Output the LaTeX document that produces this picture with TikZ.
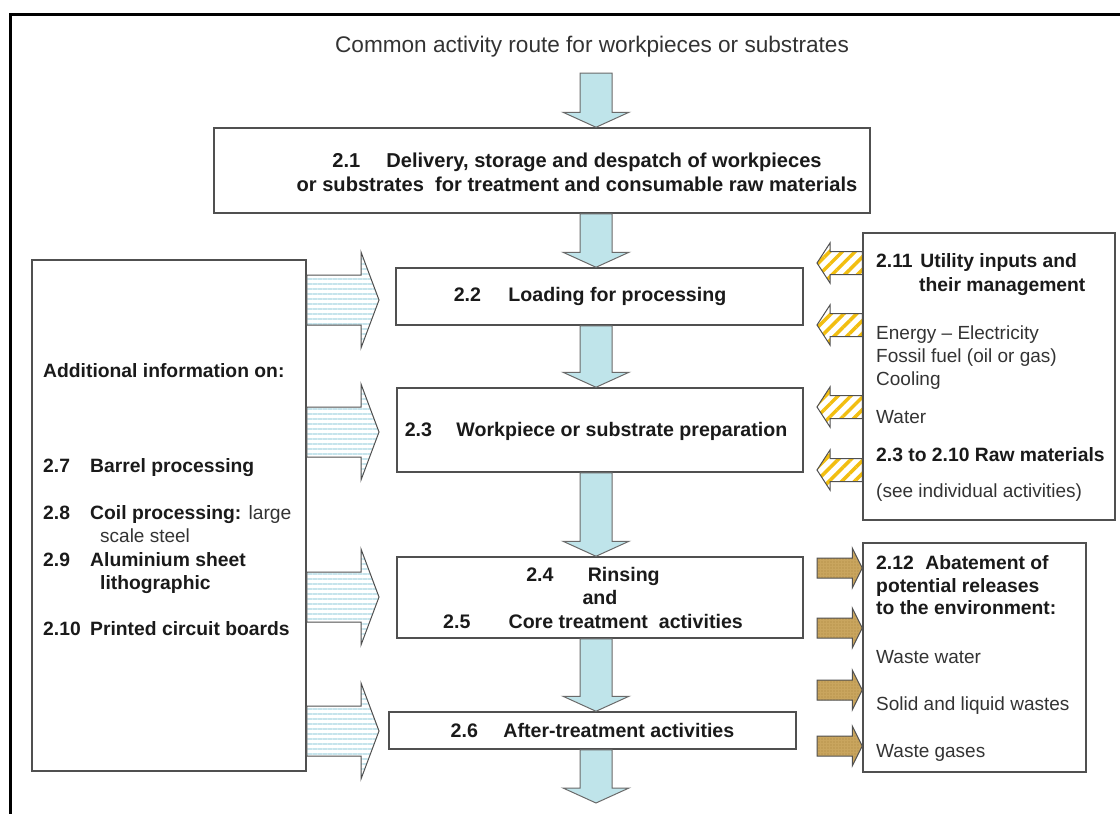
\documentclass[tikz,border=0pt]{standalone}
\usepackage{fontspec}
\setmainfont{Liberation Sans}
\usetikzlibrary{calc,patterns.meta}
\definecolor{arrblue}{HTML}{BFE4EA}
\definecolor{boxline}{HTML}{505050}
\definecolor{stripeblue}{HTML}{C6E4EC}
\definecolor{yelstripe}{HTML}{F2BE10}
\definecolor{tanfill}{HTML}{C9A55E}
\definecolor{tandark}{HTML}{A8843C}
\definecolor{txtdark}{HTML}{1A1A1A}
\definecolor{txtreg}{HTML}{333333}
\newcommand\downarr[2]{\draw[blockdown] let \p1=(#1), \p2=(#2) in
  (\x1-16pt,\y1) -- (\x1+16pt,\y1) -- (\x1+16pt,\y2+15pt) -- (\x1+33pt,\y2+15pt)
  -- (\x1,\y2) -- (\x1-33pt,\y2+15pt) -- (\x1-16pt,\y2+15pt) -- cycle;}
% right-pointing: #1 style, #2 tail, #3 tip, #4 shaft half, #5 head half, #6 head length
\newcommand\rarr[6]{\draw[#1] let \p1=(#2), \p2=(#3) in
  (\x1,\y1+#4) -- (\x2-#6,\y1+#4) -- (\x2-#6,\y1+#5) -- (\x2,\y1)
  -- (\x2-#6,\y1-#5) -- (\x2-#6,\y1-#4) -- (\x1,\y1-#4) -- cycle;}
\newcommand\larr[6]{\draw[#1] let \p1=(#2), \p2=(#3) in
  (\x1,\y1+#4) -- (\x2+#6,\y1+#4) -- (\x2+#6,\y1+#5) -- (\x2,\y1)
  -- (\x2+#6,\y1-#5) -- (\x2+#6,\y1-#4) -- (\x1,\y1-#4) -- cycle;}
\begin{document}
\begin{tikzpicture}[x=1pt,y=-1pt,
  font=\fontsize{19}{23.5}\selectfont,
  box/.style={draw=boxline, line width=1.5pt, rectangle, inner sep=0pt,
    align=center, font=\fontsize{19.6}{23.5}\selectfont\bfseries, text=txtdark},
  boxtext/.style={inner sep=0pt, align=center, font=\fontsize{19.6}{23.5}\selectfont\bfseries, text=txtdark},
  blockdown/.style={draw=boxline!85, line width=1pt, fill=arrblue},
  stripearr/.style={draw=boxline, line width=1pt, preaction={fill=white},
    pattern={Lines[angle=0,distance=5pt,line width=2.2pt]}, pattern color=stripeblue},
  yelarr/.style={draw=boxline, line width=1pt, preaction={fill=white},
    pattern={Lines[angle=45,distance=9pt,line width=3.5pt]}, pattern color=yelstripe},
  brownarr/.style={draw=boxline, line width=1pt, preaction={fill=tanfill},
    pattern={Dots[distance=3pt,radius=0.6pt]}, pattern color=tandark},
  lbl/.style={anchor=base west, inner sep=0pt, text=txtdark, font=\fontsize{19.3}{23.5}\selectfont\bfseries},
  reg/.style={anchor=base west, inner sep=0pt, text=txtreg, font=\fontsize{19}{23.5}\selectfont}]
\useasboundingbox (0,0) rectangle (1120,814);
% outer frame
\draw[line width=3pt, black] (10,814) -- (10,14) -- (1120,14);

% title
\node[text=txtreg, font=\fontsize{22.6}{26}\selectfont] (title) at (592,47) {Common activity route for workpieces or substrates};

% main boxes
\node[box, minimum width=656, minimum height=85] (b21) at (542,170.5) {};
\node[boxtext, font=\fontsize{20.1}{24}\selectfont\bfseries] (b21t) at (577,172)
  {2.1\hspace{1.3em}Delivery, storage and despatch of workpieces\\or substrates\ \ for treatment and consumable raw materials};
\node[box, minimum width=407, minimum height=57] (b22) at (599.5,296.5) {};
\node[boxtext] (b22t) at (590,296.5) {2.2\hspace{1.4em}Loading for processing};
\node[box, minimum width=406, minimum height=84] (b23) at (600,430) {};
\node[boxtext] (b23t) at (596,431) {2.3\hspace{1.25em}Workpiece or substrate preparation};
\node[box, minimum width=406, minimum height=81] (b24) at (600,597.5) {};
\node[boxtext] (b24t) at (593,597.5)
  {2.4\hspace{1.75em}Rinsing\\\hspace*{14pt}and\\2.5\hspace{1.95em}Core treatment\ \ activities};
\node[box, minimum width=407, minimum height=37] (b26) at (592.5,730.5)
  {2.6\hspace{1.3em}After-treatment activities};

% side boxes
\node[draw=boxline, line width=1.5pt, minimum width=274, minimum height=511, inner sep=0pt] (info) at (169,515.5) {};
\node[draw=boxline, line width=1.5pt, minimum width=252, minimum height=287, inner sep=0pt] (util) at (989,376.5) {};
\node[draw=boxline, line width=1.5pt, minimum width=223, minimum height=229, inner sep=0pt] (abate) at (974.5,657.5) {};

% left box text
\node[lbl] (addl) at (43,377) {Additional information on:};
\node[lbl] (n27) at (43,472) {2.7};
\node[lbl] (t27) at (90,472) {Barrel processing};
\node[lbl] (n28) at (43,519) {2.8};
\node[lbl] (t28) at (90,519) {Coil processing: \mdseries\color{txtreg}large};
\node[reg] (t28b) at (100,542) {scale steel};
\node[lbl] (n29) at (43,566) {2.9};
\node[lbl] (t29) at (90,566) {Aluminium sheet};
\node[lbl] (t29b) at (100,589) {lithographic};
\node[lbl] (n210) at (43,635) {2.10};
\node[lbl] (t210) at (90,635) {Printed circuit boards};

% utility box text
\node[lbl] (u1) at (876,267) {2.11\hspace{0.4em}Utility inputs and};
\node[lbl] (u2) at (919,291) {their management};
\node[reg] (u3) at (876,339) {Energy -- Electricity};
\node[reg] (u4) at (876,362) {Fossil fuel (oil or gas)};
\node[reg] (u5) at (876,385) {Cooling};
\node[reg] (u6) at (876,423) {Water};
\node[lbl] (u7) at (876,461) {2.3 to 2.10 Raw materials};
\node[reg] (u8) at (876,497) {(see individual activities)};

% abatement box text
\node[lbl] (a1) at (876,569) {2.12\hspace{0.6em}Abatement of};
\node[lbl] (a2) at (876,592) {potential releases};
\node[lbl] (a3) at (876,614) {to the environment:};
\node[reg] (a4) at (876,663) {Waste water};
\node[reg] (a5) at (876,710) {Solid and liquid wastes};
\node[reg] (a6) at (876,757) {Waste gases};

% main down arrows
\coordinate (ax) at (596,0);
\coordinate (t0) at (596,73);
\coordinate (tend) at (596,803);
\downarr{t0}{b21.north -| ax}
\downarr{b21.south -| ax}{b22.north -| ax}
\downarr{b22.south -| ax}{b23.north -| ax}
\downarr{b23.south -| ax}{b24.north -| ax}
\downarr{b24.south -| ax}{b26.north -| ax}
\downarr{b26.south -| ax}{tend}

% left striped arrows
\coordinate (lt1) at (379,300);
\coordinate (lt2) at (379,432);
\coordinate (lt3) at (379,597);
\coordinate (lt4) at (379,731);
\rarr{stripearr}{info.east |- lt1}{lt1}{25pt}{48pt}{18pt}
\rarr{stripearr}{info.east |- lt2}{lt2}{25pt}{48pt}{18pt}
\rarr{stripearr}{info.east |- lt3}{lt3}{25pt}{48pt}{18pt}
\rarr{stripearr}{info.east |- lt4}{lt4}{25pt}{48pt}{18pt}

% yellow utility arrows
\coordinate (ua1) at (817,263);
\coordinate (ua2) at (817,325);
\coordinate (ua3) at (817,407);
\coordinate (ua4) at (817,470);
\larr{yelarr}{util.west |- ua1}{ua1}{11.5pt}{20pt}{13pt}
\larr{yelarr}{util.west |- ua2}{ua2}{11.5pt}{20pt}{13pt}
\larr{yelarr}{util.west |- ua3}{ua3}{11.5pt}{20pt}{13pt}
\larr{yelarr}{util.west |- ua4}{ua4}{11.5pt}{20pt}{13pt}

% brown abatement arrows
\coordinate (ba1) at (817,568);
\coordinate (ba2) at (817,628);
\coordinate (ba3) at (817,690);
\coordinate (ba4) at (817,746);
\rarr{brownarr}{ba1}{abate.west |- ba1}{10pt}{20pt}{10pt}
\rarr{brownarr}{ba2}{abate.west |- ba2}{10pt}{20pt}{10pt}
\rarr{brownarr}{ba3}{abate.west |- ba3}{10pt}{20pt}{10pt}
\rarr{brownarr}{ba4}{abate.west |- ba4}{10pt}{20pt}{10pt}
\end{tikzpicture}
\end{document}
